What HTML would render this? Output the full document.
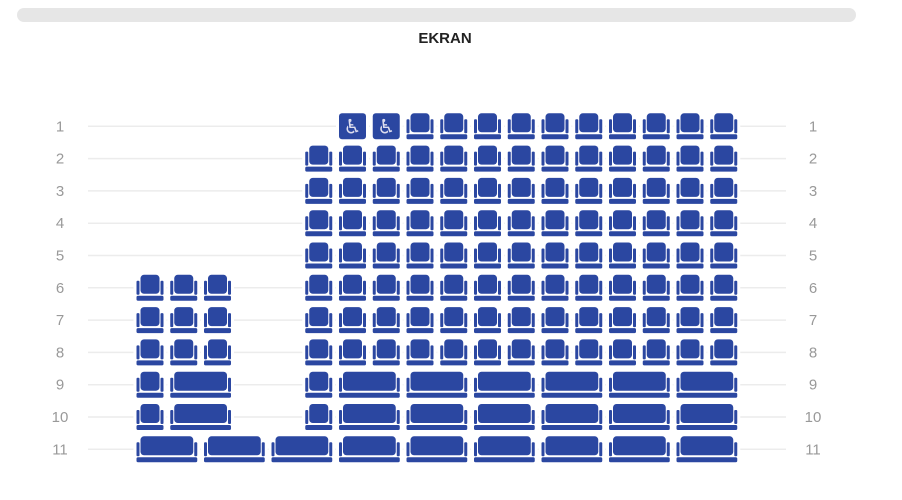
<!DOCTYPE html>
<html><head><meta charset="utf-8"><style>
body{margin:0;background:#fff;width:902px;height:495px;overflow:hidden;font-family:"Liberation Sans",sans-serif}
</style></head><body>
<svg id="map" width="902" height="495" xmlns="http://www.w3.org/2000/svg">
<rect x="17" y="8" width="839" height="14" rx="7" fill="#e6e6e6"/>
<text x="445" y="43" text-anchor="middle" font-size="15" font-weight="bold" fill="#222">EKRAN</text>
<g id="rows"></g>
</svg>
<script>
const rowLabels=["1","2","3","4","5","6","7","8","9","10","11"];
// seats per row: [startCol, spanCols, type]
const rowSeats=[
 [[6,1,"w"],[7,1,"w"],[8,1,"s"],[9,1,"s"],[10,1,"s"],[11,1,"s"],[12,1,"s"],[13,1,"s"],[14,1,"s"],[15,1,"s"],[16,1,"s"],[17,1,"s"]],
 [], [], [], [], [], [], [], [], [], []
];
const mainSingles=[5,6,7,8,9,10,11,12,13,14,15,16,17];
const leftSingles=[0,1,2];
for(let r=1;r<=7;r++){ mainSingles.forEach(c=>rowSeats[r].push([c,1,"s"])); }
for(let r=5;r<=7;r++){ leftSingles.forEach(c=>rowSeats[r].push([c,1,"s"])); }
const pairRow=[[0,1,"s"],[1,2,"s"],[5,1,"s"],[6,2,"s"],[8,2,"s"],[10,2,"s"],[12,2,"s"],[14,2,"s"],[16,2,"s"]];
rowSeats[8]=pairRow.slice(); rowSeats[9]=pairRow.slice();
rowSeats[10]=[[0,2,"s"],[2,2,"s"],[4,2,"s"],[6,2,"s"],[8,2,"s"],[10,2,"s"],[12,2,"s"],[14,2,"s"],[16,2,"s"]];

const X0=136.5, PX=33.75, Y0=126.3, PY=32.3, SW=27, SH=26, BLUE="#2b47a1";
const xs=c=>X0+c*PX, ys=r=>Y0+r*PY;
const g=document.getElementById('rows');
const NS="http://www.w3.org/2000/svg";
function mk(t,a,p){const e=document.createElementNS(NS,t);for(const k in a)e.setAttribute(k,a[k]);p.appendChild(e);return e;}
rowLabels.forEach((lab,r)=>{
  const y=ys(r);
  const line=mk('line',{x1:88,x2:786,y1:y,y2:y,stroke:"#ececec","stroke-width":1.5},g);
  
  
  const l=mk('text',{x:60,y:y+5,"text-anchor":"middle","font-size":15,fill:"#999"},g);l.textContent=lab;
  
  
  const rt=mk('text',{x:813,y:y+5,"text-anchor":"middle","font-size":15,fill:"#999"},g);rt.textContent=lab;
  
  
  rowSeats[r].forEach(([c,span,type])=>{
    const x=xs(c), w=SW+(span-1)*PX, top=y-13;
    const s=mk('g',{transform:`translate(${x},${top})`,cursor:"pointer"},g);
    
    
    mk('rect',{x:-3,y:-3,width:w+6,height:SH+6,fill:"#fff"},s);
    if(type==="w"){
      mk('rect',{x:0,y:0,width:w,height:SH,rx:3,fill:BLUE},s);
      const t=mk('text',{x:w/2,y:20,"text-anchor":"middle","font-size":20,fill:"#dde",
        "font-family":"DejaVu Sans"},s);t.textContent="♿";
    } else {
      mk('rect',{x:4,y:0,width:w-8,height:19,rx:3.5,fill:BLUE},s);
      mk('rect',{x:0,y:6,width:3,height:14,rx:1,fill:BLUE},s);
      mk('rect',{x:w-3,y:6,width:3,height:14,rx:1,fill:BLUE},s);
      mk('rect',{x:0,y:21,width:w,height:5,rx:1.5,fill:BLUE},s);
    }
  });
});
</script>
</body></html>
